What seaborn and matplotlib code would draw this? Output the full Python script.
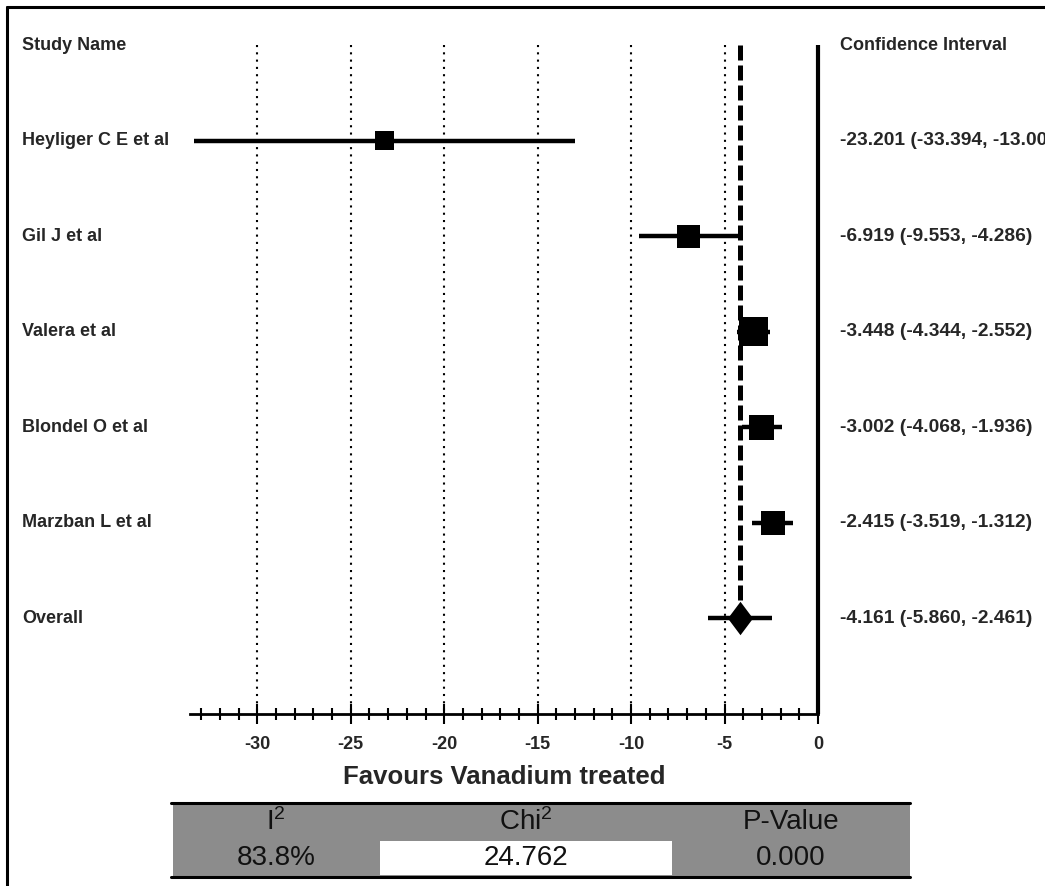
import numpy as np
import pandas as pd
import seaborn as sns
import matplotlib.pyplot as plt
from matplotlib.lines import Line2D
from matplotlib.patches import Rectangle
from matplotlib.ticker import MultipleLocator
from matplotlib.transforms import blended_transform_factory

# data
studies = ['Heyliger C E et al', 'Gil J et al', 'Valera et al', 'Blondel O et al', 'Marzban L et al']
effect = [-23.201, -6.919, -3.448, -3.002, -2.415]
lower = [-33.394, -9.553, -4.344, -4.068, -3.519]
upper = [-13.008, -4.286, -2.552, -1.936, -1.312]
weight = [7, 17, 35, 23, 18]

overall = -4.161
overall_lo = -5.860
overall_hi = -2.461

table_heads = ['I$^2$', 'Chi$^2$', 'P-Value']
table_vals = ['83.8%', '24.762', '0.000']

sns.set_style('white')
plt.rcParams['font.family'] = ['Liberation Sans', 'DejaVu Sans']
plt.rcParams['mathtext.fontset'] = 'custom'
plt.rcParams['mathtext.rm'] = 'Liberation Sans'
plt.rcParams['mathtext.default'] = 'regular'
plt.rcParams['axes.unicode_minus'] = False

W, H = 1045, 886
def fx(px):
    return px / W
def fy(py):
    return 1 - py / H

df = pd.DataFrame({'study': studies, 'effect': effect, 'lower': lower,
                   'upper': upper, 'weight': weight})
df['row'] = np.arange(1, len(df) + 1)
overall_row = len(df) + 1

fig = plt.figure(figsize=(W / 100, H / 100), dpi=100)
ax = fig.add_axes([fx(190), fy(714), fx(818) - fx(190), fy(45) - fy(714)])

# reference lines
ax.vlines(np.arange(-30, 0, 5), 0, overall_row + 1, color='black', lw=1.5,
          linestyles=(0, (1, 2.5)), zorder=1)
ax.vlines(0, 0, overall_row + 1, color='black', lw=3, clip_on=False, zorder=2)
ax.vlines(overall, 0, overall_row, color='black', lw=3.6,
          linestyles=(0, (3, 1)), zorder=2)

# study estimates
ax.hlines(df['row'], df['lower'], df['upper'], color='black', lw=3.2, zorder=3)
sns.scatterplot(data=df, x='effect', y='row', size='weight', sizes=(180, 440),
                marker='s', color='black', edgecolor='black', linewidth=0,
                legend=False, ax=ax, zorder=4)

# overall estimate
ax.hlines(overall_row, overall_lo, overall_hi, color='black', lw=3.2, zorder=3)
diamond = [(-0.75, 0), (0, 1), (0.75, 0), (0, -1)]
sns.scatterplot(x=[overall], y=[overall_row], marker=diamond, s=580,
                color='black', edgecolor='black', linewidth=0, ax=ax, zorder=5)

ax.set_xlim(-33.6, 0)
ax.set_ylim(overall_row + 1, 0)
for s in ['left', 'top', 'right']:
    ax.spines[s].set_visible(False)
ax.spines['bottom'].set_linewidth(2)
ax.spines['bottom'].set_color('black')
ax.set_yticks([])
ax.set_ylabel('')
ax.xaxis.set_major_locator(MultipleLocator(5))
ax.xaxis.set_minor_locator(MultipleLocator(1))
ax.tick_params(axis='x', which='major', direction='inout', length=15, width=1.5,
               color='black', pad=8, labelsize=13, bottom=True)
ax.tick_params(axis='x', which='minor', direction='inout', length=9, width=1.5,
               color='black', bottom=True)
plt.setp(ax.get_xticklabels(), fontweight='bold')
ax.set_xlabel('Favours Vanadium treated', fontsize=18.5, fontweight='bold', labelpad=9)

# side text columns
trans = blended_transform_factory(fig.transFigure, ax.transData)
name_fs = 13
ci_fs = 13.8
ax.text(fx(22), 0, 'Study Name', transform=trans, fontsize=name_fs,
        fontweight='bold', va='center')
ax.text(fx(840), 0, 'Confidence Interval', transform=trans, fontsize=name_fs,
        fontweight='bold', va='center')
for r, name, e, lo, hi in zip(df['row'], studies, effect, lower, upper):
    ax.text(fx(22), r, name, transform=trans, fontsize=name_fs, fontweight='bold', va='center')
    ax.text(fx(840), r, f'{e:.3f} ({lo:.3f}, {hi:.3f})', transform=trans,
            fontsize=ci_fs, fontweight='bold', va='center')
ax.text(fx(22), overall_row, 'Overall', transform=trans, fontsize=name_fs,
        fontweight='bold', va='center')
ax.text(fx(840), overall_row, f'{overall:.3f} ({overall_lo:.3f}, {overall_hi:.3f})',
        transform=trans, fontsize=ci_fs, fontweight='bold', va='center')

# heterogeneity table
fig.add_artist(Rectangle((fx(173), fy(877)), fx(910) - fx(173), fy(803) - fy(877),
                         transform=fig.transFigure, facecolor='#8c8c8c', edgecolor='none'))
fig.add_artist(Rectangle((fx(380), fy(875)), fx(672) - fx(380), fy(841) - fy(875),
                         transform=fig.transFigure, facecolor='white', edgecolor='none'))
for yy in [803, 877]:
    fig.add_artist(Line2D([fx(171), fx(910)], [fy(yy), fy(yy)], color='black', lw=2.2))
for cx, head, val in zip([276, 526, 791], table_heads, table_vals):
    fig.text(fx(cx), fy(822), head, fontsize=20, ha='center', va='center', color='#111111')
    fig.text(fx(cx), fy(858), val, fontsize=20, ha='center', va='center', color='#111111')

# outer frame (left and top edges visible)
fig.add_artist(Line2D([fx(7), fx(7)], [0, fy(7)], color='black', lw=2.2))
fig.add_artist(Line2D([fx(7), 1], [fy(7), fy(7)], color='black', lw=2.2))

fig.savefig('out.png', dpi=100)
